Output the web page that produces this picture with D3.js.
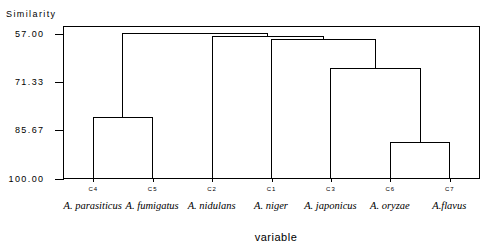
<!DOCTYPE html>
<html lang="en">
<head>
  <meta charset="UTF-8" />
  <title>Dendrogram</title>
  <script src="https://d3js.org/d3.v7.min.js"></script>
  <style>
    body { margin: 0; background: #fff; }
    svg { display: block; }
    .pix { font-family: 'Liberation Sans', Arial, sans-serif; font-size: 9px; letter-spacing: 1.4px; fill: #000; }
    .leaf-code { font-family: 'Liberation Sans', Arial, sans-serif; font-size: 6px; letter-spacing: 1px; fill: #000; }
    .species { font-family: 'Liberation Serif', 'Times New Roman', serif; font-style: italic; font-size: 10.5px; fill: #000; }
    .xtitle { font-family: 'Liberation Sans', Arial, sans-serif; font-size: 11px; letter-spacing: 0.5px; fill: #000; }
    .tree { fill: none; stroke: #000; stroke-width: 1; shape-rendering: crispEdges; }
  </style>
</head>
<body>
<svg width="491" height="251"></svg>

<script>
// leaves in drawing order
const leaves = ["C4", "C5", "C2", "C1", "C3", "C6", "C7"];
const species = ["A. parasiticus", "A. fumigatus", "A. nidulans", "A. niger", "A. japonicus", "A. oryzae", "A.flavus"];

// merges: each cluster joins a left and a right node at a similarity level
const clusterNames = ["C6C7", "C4C5", "C3C6C7", "C1C3C6C7", "C2C1C3C6C7", "all"];
const clusterLeft  = ["C6", "C4", "C3", "C1", "C2", "C4C5"];
const clusterRight = ["C7", "C5", "C6C7", "C3C6C7", "C1C3C6C7", "C2C1C3C6C7"];
const clusterSim   = [89.3, 81.9, 67.4, 58.8, 57.9, 57.0];

const yTicks = [57.00, 71.33, 85.67, 100.00];

const svg = d3.select("svg");
const frame = { left: 63, right: 479, top: 26, bottom: 178 };

const x = d3.scalePoint()
  .domain(leaves)
  .range([frame.left, frame.right])
  .padding(0.5);

const y = d3.scaleLinear()
  .domain([57, 100])
  .range([33, frame.bottom]);

// node positions
const pos = {};
leaves.forEach(l => { pos[l] = { x: x(l), y: y(100) }; });
clusterNames.forEach((c, i) => {
  const a = pos[clusterLeft[i]], b = pos[clusterRight[i]];
  pos[c] = { x: (a.x + b.x) / 2, y: y(clusterSim[i]), a, b };
});

const snap = v => Math.round(v) + 0.5;

// frame
svg.append("rect")
  .attr("class", "tree")
  .attr("x", snap(frame.left))
  .attr("y", snap(frame.top))
  .attr("width", frame.right - frame.left)
  .attr("height", frame.bottom - frame.top);

// tree links
svg.selectAll("path.link")
  .data(clusterNames)
  .enter()
  .append("path")
  .attr("class", "tree link")
  .attr("d", c => {
    const n = pos[c];
    return `M${snap(n.a.x)},${snap(n.a.y)}V${snap(n.y)}H${snap(n.b.x)}V${snap(n.b.y)}`;
  });

// y axis
const yAxis = svg.append("g")
  .attr("transform", `translate(${snap(frame.left)},0)`)
  .call(d3.axisLeft(y).tickValues(yTicks).tickSize(9).tickPadding(10).tickFormat(d3.format(".2f")));
yAxis.select(".domain").remove();
yAxis.selectAll("line").attr("stroke", "#000").attr("shape-rendering", "crispEdges")
  .attr("transform", "translate(0,0.5)");
yAxis.selectAll("text").attr("class", "pix").attr("font-size", null).attr("font-family", null)
  .attr("dy", "0.35em");

svg.append("text")
  .attr("class", "pix")
  .attr("x", 6)
  .attr("y", 17)
  .text("Similarity");

// x axis ticks
const xAxis = svg.append("g")
  .attr("transform", `translate(0,${snap(frame.bottom)})`)
  .call(d3.axisBottom(x).tickSize(3).tickPadding(5));
xAxis.select(".domain").remove();
xAxis.selectAll("line").attr("stroke", "#000").attr("shape-rendering", "crispEdges")
  .attr("transform", "translate(0.5,0)");
xAxis.selectAll("text").attr("class", "leaf-code").attr("font-size", null).attr("font-family", null);

svg.selectAll("text.species")
  .data(leaves)
  .enter()
  .append("text")
  .attr("class", "species")
  .attr("x", d => x(d))
  .attr("y", 209)
  .attr("text-anchor", "middle")
  .text((d, i) => species[i]);

svg.append("text")
  .attr("class", "xtitle")
  .attr("x", 276)
  .attr("y", 241)
  .attr("text-anchor", "middle")
  .text("variable");
</script>
</body>
</html>
